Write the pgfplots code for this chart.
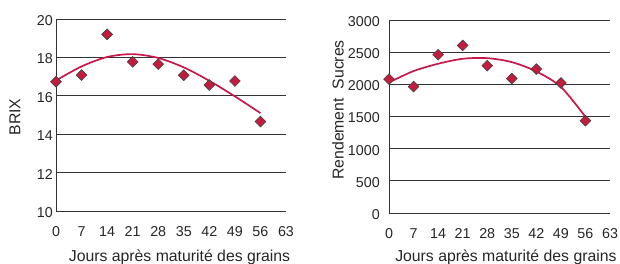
\documentclass[border=0pt]{standalone}
\usepackage{pgfplots}
\pgfplotsset{compat=1.18}
\usepackage{fontspec}
\setmainfont{Liberation Sans}
\definecolor{gridc}{HTML}{333333}
\definecolor{crim}{HTML}{C8174B}
\definecolor{mk}{HTML}{C41C3E}
\pgfplotsset{
  mystyle/.style={
    scale only axis,
    anchor=south west,
    axis lines*=left,
    axis line style={gridc, line width=0.9pt},
    ymajorgrids,
    grid style={gridc, line width=0.9pt},
    major tick length=0pt,
    xmin=0, xmax=63,
    xtick={0,7,14,21,28,35,42,49,56,63},
    /pgf/number format/assume math mode=true,
    /pgf/number format/set thousands separator={},
    tick label style={font=\fontsize{14.3pt}{16pt}\selectfont, text=black!85},
    xticklabel style={anchor=center, yshift=-21pt},
    label style={font=\fontsize{15.8pt}{18pt}\selectfont, text=black!85},
    xlabel={Jours après maturité des grains},
    clip=false,
  },
  curvestyle/.style={crim, line width=1.7pt, smooth, no markers},
  markstyle/.style={only marks, mark=square*, mark size=3.8pt,
     mark options={rotate=45, fill=mk, draw=black!75, line width=0.6pt}},
}
\begin{document}
\begin{tikzpicture}
\useasboundingbox (0,0) rectangle (620pt,264pt);
\begin{axis}[mystyle,
  at={(56pt,53pt)}, width=230pt, height=192pt,
  ymin=10, ymax=20, ytick={10,12,14,16,18,20},
  yticklabel style={inner sep=0pt, xshift=-3pt, yshift=-1.5pt},
  ylabel={BRIX},
  ylabel style={at={(axis description cs:-0.178,0.49)}, anchor=center},
  xlabel style={at={(axis description cs:0.537,-0.24)}, anchor=center},
]
\addplot[curvestyle] coordinates {(0,16.8) (7,17.53) (14,18.02) (21,18.17) (28,17.97) (35,17.48) (42,16.78) (49,15.97) (56,15.1)};
\addplot[markstyle] coordinates {(0,16.73) (7,17.08) (14,19.2) (21,17.77) (28,17.65) (35,17.07) (42,16.56) (49,16.77) (56,14.66)};
\end{axis}
\begin{axis}[mystyle,
  at={(389pt,51pt)}, width=221pt, height=193pt,
  ymin=0, ymax=3000, ytick={0,500,1000,1500,2000,2500,3000},
  yticklabel style={inner sep=0pt, xshift=-9pt, yshift=-1.5pt},
  ylabel={Rendement\ \ Sucres},
  ylabel style={at={(axis description cs:-0.231,0.534)}, anchor=center},
  xlabel style={at={(axis description cs:0.529,-0.228)}, anchor=center},
]
\addplot[curvestyle] coordinates {(0,2030) (7,2206) (14,2320) (21,2397) (28,2407) (35,2345) (42,2200) (49,1959) (56,1495)};
\addplot[markstyle] coordinates {(0,2080) (7,1965) (14,2460) (21,2605) (28,2290) (35,2090) (42,2237) (49,2022) (56,1435)};
\end{axis}
\end{tikzpicture}
\end{document}
